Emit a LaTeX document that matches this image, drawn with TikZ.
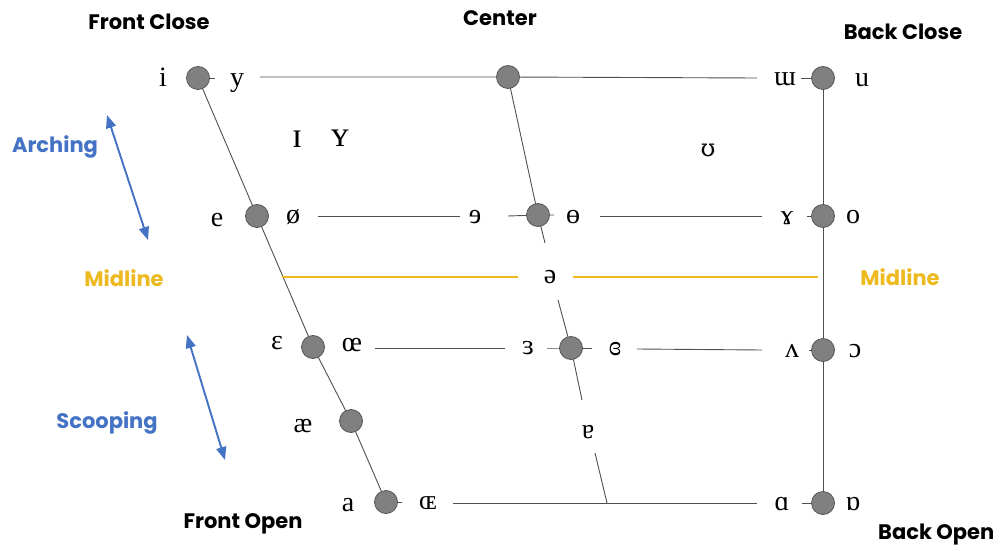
\documentclass[tikz,border=0pt]{standalone}
\usepackage{fontspec}
\setmainfont{Liberation Serif}
\newfontfamily\headfont{Poppins}
\newfontfamily\altserif{DejaVu Serif}
\usetikzlibrary{arrows.meta,backgrounds}
\definecolor{archblue}{RGB}{68,114,196}
\definecolor{midgold}{RGB}{236,186,30}
\definecolor{dotgray}{RGB}{128,128,128}
\definecolor{rimgray}{RGB}{85,85,85}
\definecolor{linegray}{RGB}{80,80,80}
\tikzset{
  vdot/.style={circle, minimum size=23pt, inner sep=0pt, fill=dotgray, draw=rimgray, line width=0.8pt},
  ipa/.style={font=\fontsize{28}{28}\selectfont, inner sep=0pt, anchor=base},
  bigipa/.style={font=\fontsize{36}{36}\selectfont, inner sep=0pt, anchor=base},
  head/.style={font=\headfont\bfseries\fontsize{21}{21}\selectfont, inner sep=0pt},
  chart/.style={draw=linegray, line width=0.9pt},
  midrule/.style={draw=midgold, line width=1.3pt},
  dir/.style={draw=archblue, line width=1.9pt, {Triangle[length=13pt,width=10pt]}-{Triangle[length=13pt,width=10pt]}},
}
\begin{document}
\begin{tikzpicture}[x=1pt,y=-1pt]
\clip (0,0) rectangle (1008,548);

% vowel points
\node[vdot] (dI)   at (198,78)  {};
\node[vdot] (dC1)  at (508,77)  {};
\node[vdot] (dB1)  at (823,78)  {};
\node[vdot] (dE)   at (257,216) {};
\node[vdot] (dC2)  at (538,215) {};
\node[vdot] (dB2)  at (823,216) {};
\node[vdot] (dEps) at (313,347) {};
\node[vdot] (dC3)  at (571,348) {};
\node[vdot] (dB3)  at (823,350) {};
\node[vdot] (dAe)  at (351,421) {};
\node[vdot] (dA)   at (386,502) {};
\node[vdot] (dB4)  at (823,503) {};

% free ends of the chart lines
\coordinate (t1) at (260,77);   \coordinate (t2) at (757,78);
\coordinate (r2a) at (318,216); \coordinate (r2b) at (460,216);
\coordinate (r2c) at (508,216); \coordinate (r2d) at (600,216);
\coordinate (r2e) at (762,216);
\coordinate (m1) at (282,277);  \coordinate (m2) at (518,277);
\coordinate (m3) at (573,277);  \coordinate (m4) at (818,277);
\coordinate (r3a) at (375,348); \coordinate (r3b) at (505,348);
\coordinate (r3c) at (547,348); \coordinate (r3d) at (592,348);
\coordinate (r3e) at (637,349); \coordinate (r3f) at (762,350);
\coordinate (r4a) at (453,503); \coordinate (r4b) at (757,503);
\coordinate (c1) at (545,243);  \coordinate (c2) at (558,300);
\coordinate (c3) at (582,400);  \coordinate (c4) at (595,453);
\coordinate (c5) at (607,503);

\begin{pgfonlayer}{background}
  \fill[white] (0,0) rectangle (1008,548);
  % front, central and back edges
  \draw[chart] (dI.center) -- (dE.center) -- (dEps.center) -- (dAe.center) -- (dA.center);
  \draw[chart] (dC1.center) -- (dC2.center) -- (c1);
  \draw[chart] (c2) -- (dC3.center) -- (c3);
  \draw[chart] (c4) -- (c5);
  \draw[chart] (dB1.center) -- (dB2.center) -- (dB3.center) -- (dB4.center);
  % close row
  \draw[chart] (t1) -- (dC1.center) -- (t2);
  \draw[chart] (dI.center) -- ++(17,0);
  \draw[chart] (dB1.center) -- ++(-22,0);
  % close-mid row
  \draw[chart] (r2a) -- (r2b);
  \draw[chart] (r2c) -- (dC2.center) -- ++(16,0);
  \draw[chart] (r2d) -- (r2e);
  \draw[chart] (dB2.center) -- ++(-16,0);
  % midline
  \draw[midrule] (m1) -- (m2);
  \draw[midrule] (m3) -- (m4);
  % open-mid row
  \draw[chart] (r3a) -- (r3b);
  \draw[chart] (r3c) -- (dC3.center) -- (r3d);
  \draw[chart] (r3e) -- (r3f);
  \draw[chart] (dB3.center) -- ++(-14,0);
  % open row
  \draw[chart] (dA.center) -- ++(16,0);
  \draw[chart] (r4a) -- (r4b);
  \draw[chart] (dB4.center) -- ++(-21,0);
\end{pgfonlayer}

% vowel symbols
\node[ipa] (vi)  at (163,87)  {i};
\node[ipa] (vy)  at (237,87)  {y};
\node[ipa] (vmw) at (785,86)  {ɯ};
\node[ipa] (vu)  at (862,87)  {u};
\node[bigipa] (vI)  at (297,148) {ɪ};
\node[bigipa] (vY)  at (340,147) {ʏ};
\node[ipa, font=\altserif\fontsize{24}{24}\selectfont] (vU) at (708,157) {ʊ};
\node[ipa] (ve)  at (217,226) {e};
\node[ipa] (vo2) at (293,223) {ø};
\node[ipa] (vre) at (475,223) {ɘ};
\node[ipa] (vbo) at (573,223) {ɵ};
\node[ipa] (vram) at (787,224) {ɤ};
\node[ipa] (vo)  at (853,223) {o};
\node[ipa] (vsw) at (550,283) {ə};
\node[ipa] (veps) at (277,349) {ɛ};
\node[ipa] (voe) at (352,351) {œ};
\node[ipa] (vrep) at (528,354) {ɜ};
\node[ipa] (vcre) at (615,355) {ɞ};
\node[ipa] (vv)  at (792,357) {ʌ};
\node[ipa] (voo) at (855,357) {ɔ};
\node[ipa] (vae) at (303,432) {æ};
\node[ipa] (vta) at (588,438) {ɐ};
\node[ipa] (va)  at (348,511) {a};
\node[ipa] (vOE) at (428,509) {ɶ};
\node[ipa] (vsa) at (782,510) {ɑ};
\node[ipa] (vta2) at (853,510) {ɒ};

% corner and side labels
\node[head] (fc) at (149,22)  {Front Close};
\node[head] (ce) at (500,18)  {Center};
\node[head] (bc) at (903,32)  {Back Close};
\node[head] (fo) at (243,524) {Front Open};
\node[head, anchor=west] (bo) at (878,535) {Back Open};
\node[head, text=archblue] (arch) at (55,147) {Arching};
\node[head, text=archblue] (scoop) at (107,423) {Scooping};
\node[head, text=midgold] (midl) at (124,278) {Midline};
\node[head, text=midgold] (midr) at (900,277) {Midline};

% tongue movement arrows
\coordinate (a1) at (107,115); \coordinate (a2) at (148,240);
\coordinate (s1) at (187,335); \coordinate (s2) at (225,460);
\draw[dir] (a1) -- (a2);
\draw[dir] (s1) -- (s2);
\end{tikzpicture}
\end{document}
